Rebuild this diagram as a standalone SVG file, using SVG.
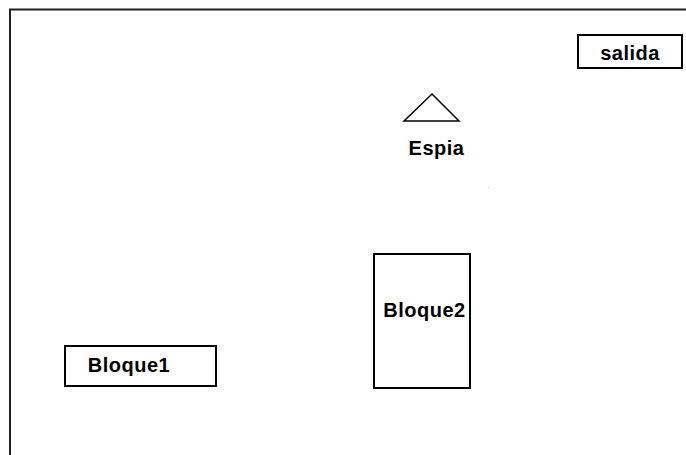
<svg xmlns="http://www.w3.org/2000/svg" width="686" height="455" viewBox="0 0 686 455">
<style>
.box{fill:#fff;stroke:#000;stroke-width:2}
.lbl{font-family:"Liberation Sans",Arial,sans-serif;font-weight:bold;font-size:20px;fill:#000;text-anchor:middle;letter-spacing:0.5px}
</style>
<rect width="686" height="455" fill="#fff"/>
<g id="frame">
<path d="M10,455 V9.5 H686" fill="none" stroke="#222" stroke-width="2"/>
</g>
<g id="salida">
<rect class="box" x="578" y="35" width="104" height="33"/>
<text class="lbl" x="630" y="60">salida</text>
</g>
<g id="espia">
<path d="M404,121 L432,94 L459,121 Z" fill="#fff" stroke="#000" stroke-width="1.5"/>
<text class="lbl" x="436.5" y="155">Espia</text>
</g>
<g id="bloque2">
<rect class="box" x="374" y="254" width="96" height="134"/>
<text class="lbl" x="424.5" y="317">Bloque2</text>
</g>
<g id="bloque1">
<rect class="box" x="65" y="346" width="151" height="40"/>
<text class="lbl" x="129" y="372">Bloque1</text>
</g>
<g id="connectors"></g>
<rect x="488" y="187" width="1" height="1" fill="#ccc"/>
</svg>
